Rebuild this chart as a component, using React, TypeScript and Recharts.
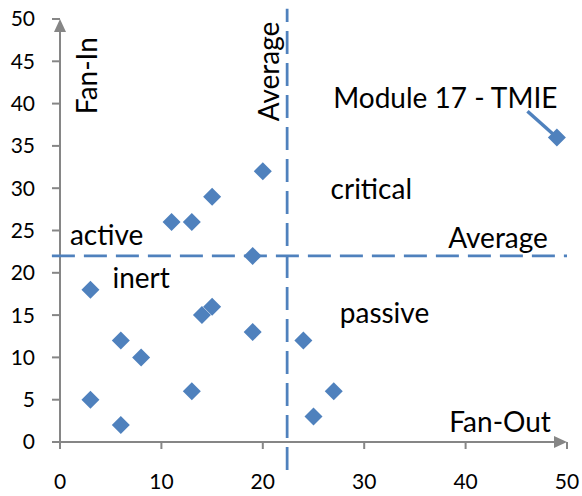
import React from 'react';
import { ScatterChart, Scatter, XAxis, YAxis, ReferenceLine, ReferenceDot } from 'recharts';

const fanOut = [3, 3, 6, 6, 8, 11, 13, 13, 14, 15, 15, 19, 19, 20, 24, 25, 27, 49];
const fanIn = [18, 5, 12, 2, 10, 26, 26, 6, 15, 16, 29, 22, 13, 32, 12, 3, 6, 36];
const xTicks = [0, 10, 20, 30, 40, 50];
const yTicks = [0, 5, 10, 15, 20, 25, 30, 35, 40, 45, 50];
const avgFanOut = 22.4;
const avgFanIn = 22;

const points = fanOut.map((x, i) => ({ x, y: fanIn[i] }));

// text labels placed in data coordinates
const labels = [
  { text: 'Fan-In', x: 2.6, y: 43.3, rotate: true },
  { text: 'Average', x: 20.5, y: 43.8, rotate: true },
  { text: 'Module 17 - TMIE', x: 38.0, y: 40.8 },
  { text: 'critical', x: 30.7, y: 30.0 },
  { text: 'active', x: 4.6, y: 24.6 },
  { text: 'Average', x: 43.2, y: 24.2 },
  { text: 'inert', x: 8.0, y: 19.5 },
  { text: 'passive', x: 32.0, y: 15.4 },
  { text: 'Fan-Out', x: 43.4, y: 2.5 },
];

const BLUE = '#4F81BD';
const GRAY = '#868686';
const FONT = 'Lato, "Open Sans", sans-serif';

const Diamond = (props: any) => {
  const { cx, cy } = props;
  const r = 9;
  return <polygon points={`${cx},${cy - r} ${cx + r},${cy} ${cx},${cy + r} ${cx - r},${cy}`} fill={BLUE} />;
};

const ArrowAxis = (props: any) => {
  const { x1, y1, x2, y2 } = props;
  const len = 13;
  const half = 6;
  const dx = x2 - x1;
  const dy = y2 - y1;
  const d = Math.sqrt(dx * dx + dy * dy) || 1;
  const ux = dx / d;
  const uy = dy / d;
  const bx = x2 - ux * len;
  const by = y2 - uy * len;
  return (
    <g>
      <line x1={x1} y1={y1} x2={bx} y2={by} stroke={GRAY} strokeWidth={2} />
      <polygon
        points={`${x2},${y2} ${bx - uy * half},${by + ux * half} ${bx + uy * half},${by - ux * half}`}
        fill={GRAY}
      />
    </g>
  );
};

const makeLabel = (text: string, rotate?: boolean) => (props: any) => {
  const { cx, cy } = props;
  return (
    <text
      x={cx}
      y={cy}
      textAnchor="middle"
      dominantBaseline="central"
      fontFamily={FONT}
      fontSize={28}
      fill="#000"
      transform={rotate ? `rotate(-90 ${cx} ${cy})` : undefined}
    >
      {text}
    </text>
  );
};

export default function App() {
  return (
    <div style={{ position: 'absolute', left: 0, top: 0, background: '#fff' }}>
      <ScatterChart width={582} height={496} margin={{ top: 19, right: 15, bottom: 0, left: 0 }}>
        <XAxis
          type="number"
          dataKey="x"
          domain={[0, 50]}
          ticks={xTicks}
          height={54}
          axisLine={false}
          tickLine={{ stroke: GRAY, strokeWidth: 2 }}
          tickSize={7}
          tickMargin={25}
          tick={{ fill: '#000', fontSize: 21, fontFamily: FONT }}
          allowDataOverflow
        />
        <YAxis
          type="number"
          dataKey="y"
          domain={[0, 50]}
          ticks={yTicks}
          width={60}
          axisLine={false}
          tickLine={{ stroke: GRAY, strokeWidth: 2 }}
          tickSize={8}
          tickMargin={17}
          tick={{ fill: '#000', fontSize: 21, fontFamily: FONT }}
          allowDataOverflow
        />
        <ReferenceLine
          segment={[{ x: 0, y: 0 }, { x: 50, y: 0 }]}
          ifOverflow="visible"
          shape={ArrowAxis}
        />
        <ReferenceLine
          segment={[{ x: 0, y: 0 }, { x: 0, y: 50 }]}
          ifOverflow="visible"
          shape={ArrowAxis}
        />
        <ReferenceLine
          segment={[{ x: avgFanOut, y: -3.3 }, { x: avgFanOut, y: 51.2 }]}
          ifOverflow="visible"
          stroke={BLUE}
          strokeWidth={2.75}
          strokeDasharray="23 9"
        />
        <ReferenceLine
          segment={[{ x: -0.8, y: avgFanIn }, { x: 50, y: avgFanIn }]}
          ifOverflow="visible"
          stroke={BLUE}
          strokeWidth={2.75}
          strokeDasharray="23 9"
        />
        <ReferenceLine
          segment={[{ x: 46.1, y: 39.1 }, { x: 49, y: 36 }]}
          ifOverflow="visible"
          stroke={BLUE}
          strokeWidth={3.5}
        />
        {labels.map((l, i) => (
          <ReferenceDot key={i} x={l.x} y={l.y} r={0} ifOverflow="visible" shape={makeLabel(l.text, l.rotate)} />
        ))}
        <Scatter data={points} shape={Diamond} isAnimationActive={false} />
      </ScatterChart>
    </div>
  );
}
